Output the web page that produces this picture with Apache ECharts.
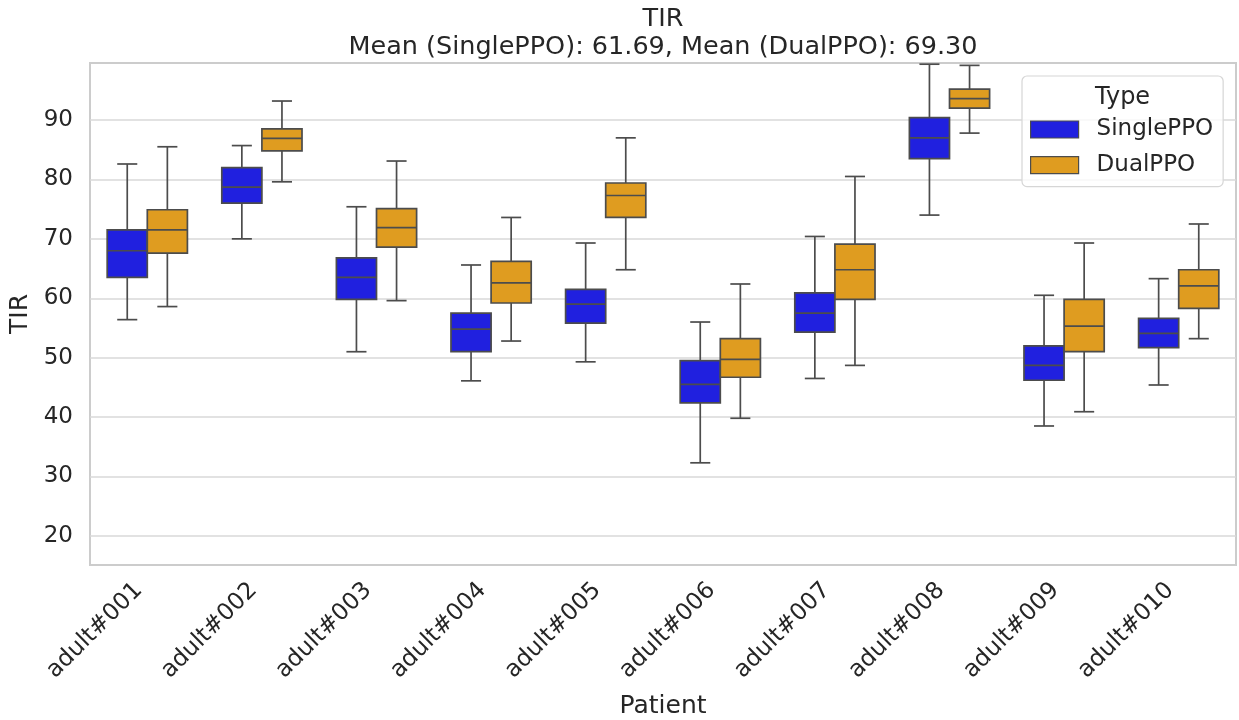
<!DOCTYPE html>
<html><head><meta charset="utf-8">
<script src="https://cdn.jsdelivr.net/npm/echarts@6/dist/echarts.min.js"></script>
<style>html,body{margin:0;padding:0;background:#fff}#c{width:1239px;height:720px}</style>
</head><body><div id="c"></div>
<script>
const categories = ['adult#001','adult#002','adult#003','adult#004','adult#005','adult#006','adult#007','adult#008','adult#009','adult#010'];
const seriesNames = ['SinglePPO', 'DualPPO'];
// each entry: [min, Q1, median, Q3, max]
const singlePPO = [
  [56.4, 63.5, 68.0, 71.5, 82.6],
  [70.0, 76.0, 78.7, 82.0, 85.7],
  [51.0, 59.8, 63.5, 66.8, 75.4],
  [46.1, 51.0, 54.8, 57.5, 65.6],
  [49.3, 55.8, 59.0, 61.5, 69.3],
  [32.3, 42.4, 45.5, 49.5, 56.0],
  [46.5, 54.3, 57.5, 60.9, 70.4],
  [74.0, 83.5, 87.0, 90.4, 99.4],
  [38.5, 46.2, 48.7, 52.0, 60.5],
  [45.4, 51.7, 54.1, 56.6, 63.3]
];
const dualPPO = [
  [58.6, 67.6, 71.5, 74.9, 85.5],
  [79.6, 84.8, 86.9, 88.5, 93.2],
  [59.6, 68.6, 71.9, 75.1, 83.1],
  [52.8, 59.2, 62.6, 66.2, 73.6],
  [64.8, 73.6, 77.3, 79.4, 87.0],
  [39.8, 46.7, 49.7, 53.2, 62.4],
  [48.7, 59.8, 64.8, 69.1, 80.5],
  [87.8, 92.0, 93.6, 95.2, 99.2],
  [40.9, 51.0, 55.3, 59.8, 69.3],
  [53.2, 58.3, 62.1, 64.8, 72.5]
];
const yTicks = [20, 30, 40, 50, 60, 70, 80, 90];
const titleText = 'TIR';
const subtitleText = 'Mean (SinglePPO): 61.69, Mean (DualPPO): 69.30';
const legendTitle = 'Type';
const xName = 'Patient';
const yName = 'TIR';

const colors = ['#2020df', '#df9c20'];
const lineColor = '#4c4c4c';
const textColor = '#262626';
const FONT = 'DejaVu Sans';

function makeRender(side) {
  return function (params, api) {
    const i = api.value(0);
    const bw = api.size([1, 0])[0];
    const w = bw * 0.35;
    const cx = api.coord([i, api.value(3)])[0];
    const x0 = side < 0 ? cx - w : cx;
    const xm = x0 + w / 2;
    const y = k => api.coord([i, api.value(k)])[1];
    const yMin = y(1), yQ1 = y(2), yMed = y(3), yQ3 = y(4), yMax = y(5);
    const ls = { stroke: lineColor, lineWidth: 1.7, fill: null };
    return {
      type: 'group',
      children: [
        { type: 'line', shape: { x1: xm, y1: yQ3, x2: xm, y2: yMax }, style: ls },
        { type: 'line', shape: { x1: xm, y1: yQ1, x2: xm, y2: yMin }, style: ls },
        { type: 'line', shape: { x1: xm - w / 4, y1: yMax, x2: xm + w / 4, y2: yMax }, style: ls },
        { type: 'line', shape: { x1: xm - w / 4, y1: yMin, x2: xm + w / 4, y2: yMin }, style: ls },
        { type: 'rect', shape: { x: x0, y: yQ3, width: w, height: yQ1 - yQ3 }, style: { fill: api.visual('color'), stroke: lineColor, lineWidth: 1.7 } },
        { type: 'line', shape: { x1: x0, y1: yMed, x2: x0 + w, y2: yMed }, style: ls }
      ]
    };
  };
}

const chart = echarts.init(document.getElementById('c'), null, { renderer: 'canvas' });
chart.setOption({
  backgroundColor: '#ffffff',
  animation: false,
  textStyle: { fontFamily: FONT, color: textColor },
  title: {
    text: titleText + '\n' + subtitleText,
    left: 663, top: 5, padding: 0, textAlign: 'center',
    textStyle: { fontFamily: FONT, fontSize: 25.5, fontWeight: 'normal', color: textColor, lineHeight: 28 }
  },
  grid: { left: 90, right: 3, top: 63, bottom: 155, show: true, borderColor: '#cccccc', borderWidth: 2,
          containLabel: false, outerBoundsMode: 'none' },
  legend: {
    data: seriesNames.map((n, k) => ({ name: n, itemStyle: { color: colors[k], borderColor: lineColor, borderWidth: 1.2 } })),
    orient: 'vertical', left: 1022, top: 76,
    padding: [42, 10, 10, 8],
    itemWidth: 48, itemHeight: 17, itemGap: 12.6, icon: 'rect',
    backgroundColor: 'rgba(255,255,255,0.8)', borderColor: '#d6d6d6', borderWidth: 1.2, borderRadius: 5,
    textStyle: { fontFamily: FONT, fontSize: 23, color: textColor, lineHeight: 23, padding: [0, 0, 0, 13] }
  },
  graphic: [{
    type: 'text', left: 1123 - 28, top: 96 - 10, z: 100,
    style: { text: legendTitle, fontFamily: FONT, fontSize: 24, fill: textColor }
  }],
  xAxis: {
    type: 'category', data: categories,
    name: xName, nameLocation: 'middle', nameGap: 129,
    nameTextStyle: { fontFamily: FONT, fontSize: 25, color: textColor },
    axisLine: { show: false }, axisTick: { show: false },
    axisLabel: { rotate: 45, margin: 30, verticalAlign: 'bottom', fontFamily: FONT, fontSize: 23.5, color: textColor, interval: 0 },
    splitLine: { show: false }
  },
  yAxis: {
    type: 'value', min: 15.1, max: 99.6,
    name: yName, nameLocation: 'middle', nameGap: 48,
    nameTextStyle: { fontFamily: FONT, fontSize: 25, color: textColor },
    axisLine: { show: false },
    axisTick: { show: false, customValues: yTicks },
    axisLabel: { customValues: yTicks, margin: 17, fontFamily: FONT, fontSize: 23, color: textColor },
    splitLine: { show: true, lineStyle: { color: '#d9d9d9', width: 1.6 } }
  },
  series: [
    { name: seriesNames[0], type: 'custom', renderItem: makeRender(-1), itemStyle: { color: colors[0] },
      encode: { x: 0, y: [1, 2, 3, 4, 5] }, data: singlePPO.map((d, i) => [i].concat(d)) },
    { name: seriesNames[1], type: 'custom', renderItem: makeRender(1), itemStyle: { color: colors[1] },
      encode: { x: 0, y: [1, 2, 3, 4, 5] }, data: dualPPO.map((d, i) => [i].concat(d)) }
  ]
});
</script>
</body></html>
